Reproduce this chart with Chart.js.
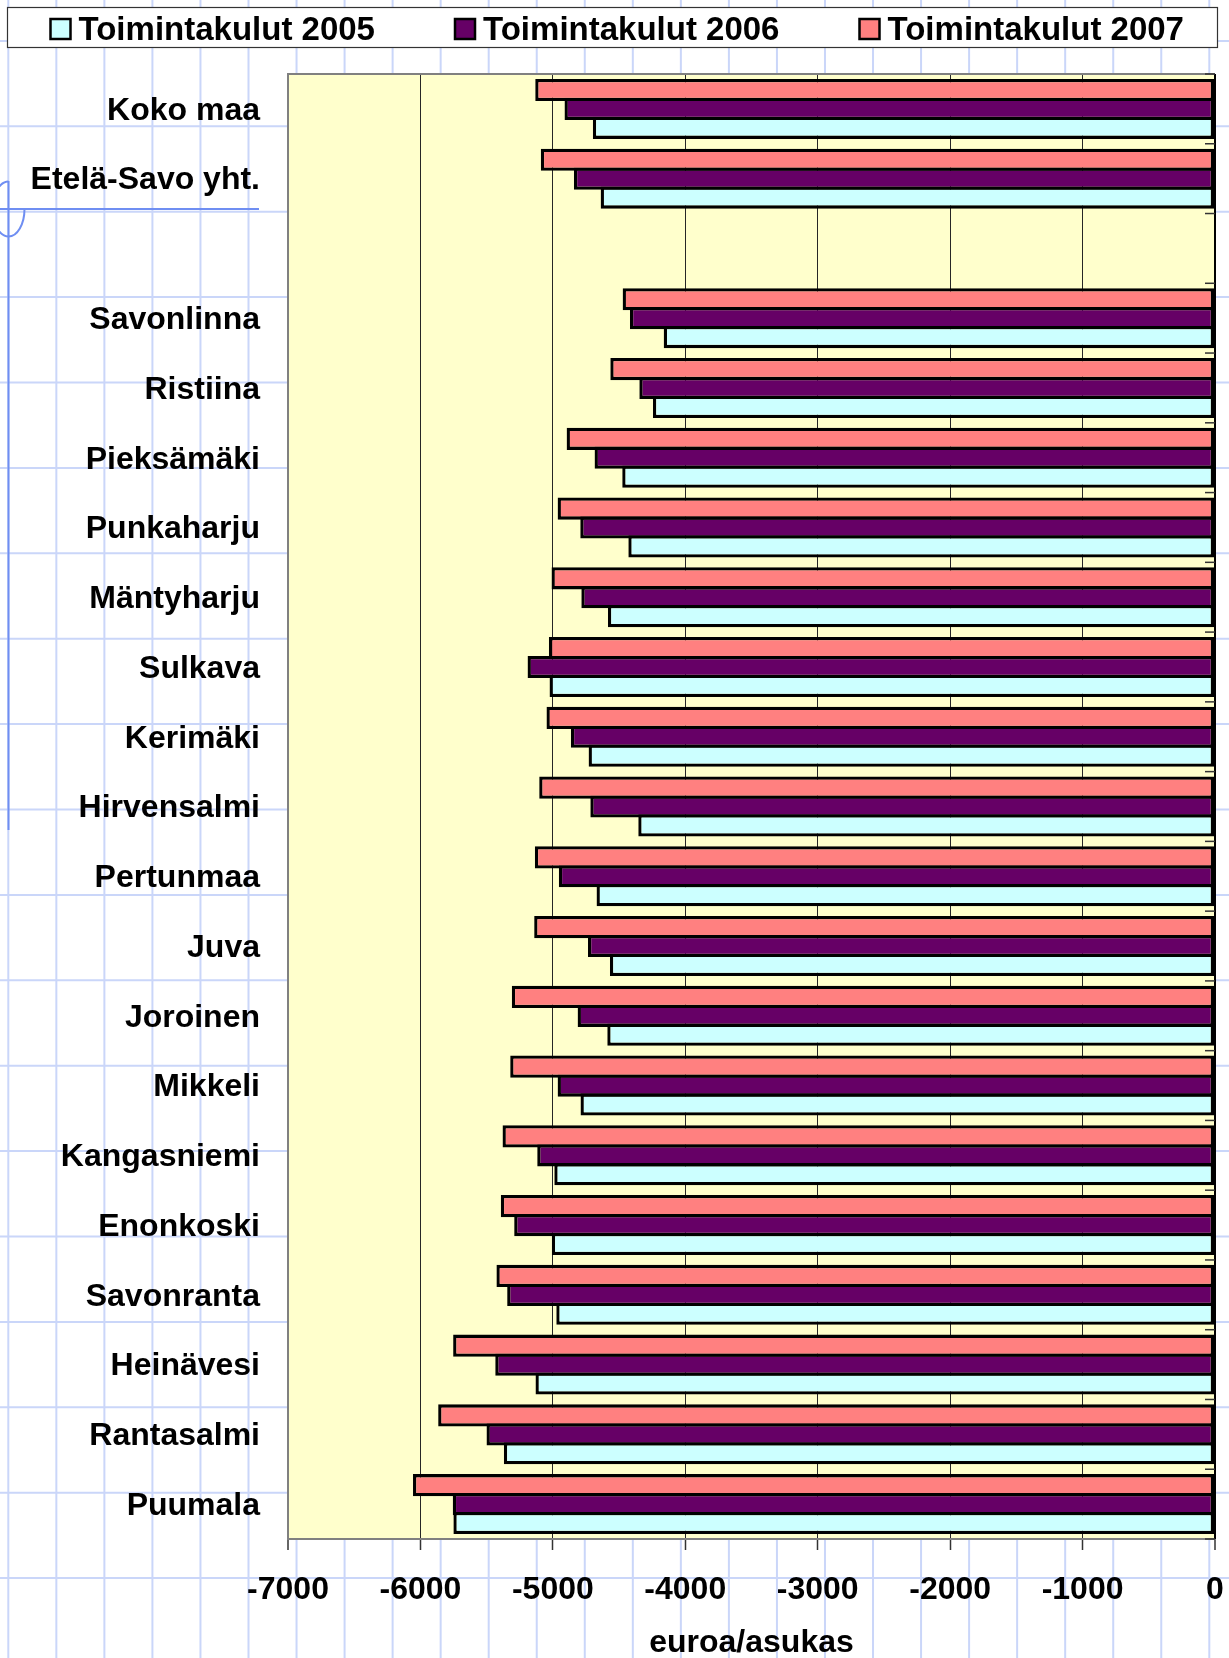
<!DOCTYPE html>
<html><head><meta charset="utf-8">
<script src="https://cdn.jsdelivr.net/npm/chart.js@4/dist/chart.umd.min.js"></script>
<style>html,body{margin:0;padding:0;background:#fff;overflow:hidden}canvas{display:block}</style>
</head><body>
<canvas id="c" width="1229" height="1658" style="width:1229px;height:1658px"></canvas>
<script>
const categories = ['Koko maa','Etelä-Savo yht.','','Savonlinna','Ristiina','Pieksämäki','Punkaharju','Mäntyharju','Sulkava','Kerimäki','Hirvensalmi','Pertunmaa','Juva','Joroinen','Mikkeli','Kangasniemi','Enonkoski','Savonranta','Heinävesi','Rantasalmi','Puumala'];
const costs2005 = [-4698,-4639,null,-4163,-4244,-4476,-4430,-4584,-5025,-4730,-4355,-4670,-4569,-4589,-4791,-4989,-5008,-4974,-5131,-5370,-5751];
const costs2006 = [-4912,-4841,null,-4418,-4347,-4685,-4793,-4785,-5191,-4864,-4717,-4955,-4735,-4813,-4964,-5118,-5292,-5345,-5435,-5501,-5756];
const costs2007 = [-5133,-5091,null,-4473,-4566,-4896,-4964,-5010,-5030,-5048,-5103,-5136,-5141,-5310,-5322,-5380,-5393,-5426,-5753,-5866,-6056];
const seriesLabels = ['Toimintakulut 2005','Toimintakulut 2006','Toimintakulut 2007'];
const seriesColors = ['#ccffff','#660066','#ff8080'];
const xTicks = [-7000,-6000,-5000,-4000,-3000,-2000,-1000,0];
const axisTitle = 'euroa/asukas';

const FONT = '"Liberation Sans", Arial, sans-serif';
Chart.defaults.font.family = FONT;

const paperPlugin = {
  id: 'paper',
  beforeDraw(chart) {
    const ctx = chart.ctx, W = chart.width, H = chart.height;
    ctx.save();
    ctx.fillStyle = '#ffffff';
    ctx.fillRect(0, 0, W, H);
    ctx.strokeStyle = '#cad6f9';
    ctx.lineWidth = 2;
    for (let x = 8.3; x < W; x += 48.04) {
      ctx.beginPath(); ctx.moveTo(x, 0); ctx.lineTo(x, H); ctx.stroke();
    }
    for (let y = 40.9; y < H; y += 85.4) {
      ctx.beginPath(); ctx.moveTo(0, y); ctx.lineTo(W, y); ctx.stroke();
    }
    // margin decoration
    ctx.strokeStyle = '#6f8ef2';
    ctx.lineWidth = 2;
    ctx.beginPath(); ctx.moveTo(8.5, 181); ctx.lineTo(8.5, 830); ctx.stroke();
    ctx.beginPath(); ctx.moveTo(0, 209); ctx.lineTo(259, 209); ctx.stroke();
    ctx.beginPath(); ctx.ellipse(8.5, 209, 16, 27.5, 0, 0, Math.PI * 1.5); ctx.stroke();

    // legend box
    ctx.fillStyle = '#ffffff';
    ctx.fillRect(7.5, 7.5, 1210, 40);
    ctx.strokeStyle = '#333';
    ctx.lineWidth = 1.2;
    ctx.strokeRect(7.5, 7.5, 1210, 40);
    ctx.font = 'bold 33px ' + FONT;
    ctx.textBaseline = 'middle';
    ctx.textAlign = 'left';
    for (let i = 0; i < seriesLabels.length; i++) {
      const x = 50.5 + i * 404.5;
      ctx.fillStyle = seriesColors[i];
      ctx.fillRect(x, 19, 20, 20);
      ctx.strokeStyle = '#000'; ctx.lineWidth = 2.5;
      ctx.strokeRect(x, 19, 20, 20);
      ctx.fillStyle = '#000';
      ctx.fillText(seriesLabels[i], x + 28, 30.5);
    }

    // plot area background
    const a = chart.chartArea;
    ctx.fillStyle = '#ffffcc';
    ctx.fillRect(a.left, a.top, a.right - a.left, a.bottom - a.top);
    ctx.restore();
  },
  beforeDatasetsDraw(chart) {
    const ctx = chart.ctx, a = chart.chartArea;
    ctx.save();
    ctx.strokeStyle = '#808080';
    ctx.lineWidth = 2;
    ctx.beginPath();
    ctx.moveTo(a.left, a.bottom); ctx.lineTo(a.left, a.top); ctx.lineTo(a.right, a.top);
    ctx.stroke();
    ctx.strokeStyle = '#000';
    ctx.beginPath(); ctx.moveTo(a.right, a.top); ctx.lineTo(a.right, a.bottom); ctx.stroke();
    // category tick marks on the value-0 axis
    const ys = chart.scales.y;
    const n = categories.length;
    const step = ys.getPixelForValue(1) - ys.getPixelForValue(0);
    ctx.strokeStyle = '#333';
    ctx.lineWidth = 1.5;
    for (let i = 0; i <= n; i++) {
      const y = ys.getPixelForValue(i) - step / 2;
      ctx.beginPath(); ctx.moveTo(a.right - 10, y); ctx.lineTo(a.right, y); ctx.stroke();
    }
    ctx.restore();
  }
};

const datasets = [
  { label: seriesLabels[2], data: costs2007, backgroundColor: seriesColors[2] },
  { label: seriesLabels[1], data: costs2006, backgroundColor: seriesColors[1] },
  { label: seriesLabels[0], data: costs2005, backgroundColor: seriesColors[0] }
].map(d => Object.assign(d, { borderColor: '#000', borderWidth: 3.3, inflateAmount: 0, borderSkipped: false, categoryPercentage: 0.8128, barPercentage: 1.1746 }));

new Chart(document.getElementById('c'), {
  type: 'bar',
  data: { labels: categories, datasets },
  plugins: [paperPlugin],
  options: {
    indexAxis: 'y',
    responsive: false,
    devicePixelRatio: 1,
    animation: false,
    events: [],
    layout: { padding: { top: 74, right: 14, bottom: 0, left: 0 } },
    plugins: { legend: { display: false }, tooltip: { enabled: false } },
    scales: {
      x: {
        type: 'linear',
        min: -7000, max: 0,
        afterBuildTicks: s => { s.ticks = xTicks.map(v => ({ value: v })); },
        afterFit: s => { s.height = 119; s.paddingRight = 0; s.paddingLeft = 0; },
        grid: {
          color: c => (c.tick && c.tick.value === 0) ? '#000' : ((c.tick && c.tick.value === -7000) ? '#808080' : '#262626'),
          lineWidth: c => (c.tick && (c.tick.value === 0 || c.tick.value === -7000)) ? 2 : 1,
          tickLength: 11,
          tickColor: '#333',
          tickWidth: 1.5,
          drawOnChartArea: true
        },
        border: { display: true, color: '#808080', width: 2 },
        ticks: {
          padding: 21, color: '#000', autoSkip: false, maxRotation: 0,
          font: { size: 32, weight: 'bold' },
          callback: v => String(v)
        },
        title: {
          display: true, text: axisTitle, color: '#000',
          font: { size: 32, weight: 'bold', lineHeight: 0.9 },
          padding: { top: 0, bottom: 0 }
        }
      },
      y: {
        afterFit: s => { s.width = 288; },
        grid: { display: false, drawTicks: false },
        border: { display: false },
        ticks: { padding: 28, labelOffset: 2, color: '#000', autoSkip: false, font: { size: 32, weight: 'bold' } }
      }
    }
  }
});
</script>
</body></html>
